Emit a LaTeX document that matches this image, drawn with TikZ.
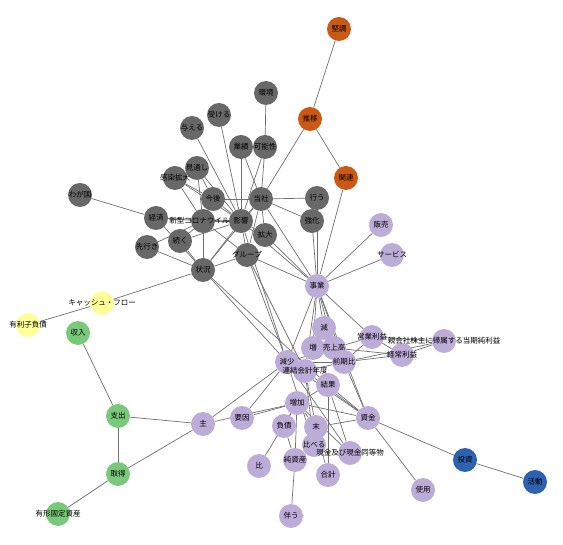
\documentclass[tikz,border=0pt]{standalone}
\usepackage{fontspec}
\setmainfont{Noto Sans CJK JP}
\usetikzlibrary{backgrounds}

\definecolor{orng}{RGB}{204,88,22}
\definecolor{grey}{RGB}{104,104,104}
\definecolor{lav}{RGB}{188,172,216}
\definecolor{yel}{RGB}{255,255,153}
\definecolor{grn}{RGB}{122,200,122}
\definecolor{blu}{RGB}{46,98,176}
\definecolor{edgecol}{RGB}{112,112,112}

\tikzset{
    word/.style={circle, minimum size=24pt, inner sep=0pt, draw=none},
    onode/.style={word, fill=orng},
    gnode/.style={word, fill=grey},
    pnode/.style={word, fill=lav},
    ynode/.style={word, fill=yel},
    cnode/.style={word, fill=grn},
    bnode/.style={word, fill=blu},
    every label/.style={inner sep=0pt, text=black, font=\fontsize{7.5}{8}\selectfont},
    link/.style={draw=edgecol, line width=0.7pt}
}

\begin{document}
\begin{tikzpicture}[x=1pt, y=-1pt]
    \useasboundingbox (0,0) rectangle (563,545);

    % ORANGE GROUP
    \node[onode, label=center:堅調] (kencho) at (339,29) {};
    \node[onode, label=center:推移] (suii) at (310,119) {};
    \node[onode, label=center:関連] (kanren) at (346,178) {};

    % GREY GROUP
    \node[gnode, label=center:環境] (kankyo) at (266,93) {};
    \node[gnode, label=center:受ける] (ukeru) at (219,115) {};
    \node[gnode, label=center:与える] (ataeru) at (192,128) {};
    \node[gnode, label=center:業績] (gyoseki) at (241,147) {};
    \node[gnode, label=center:可能性] (kanosei) at (265,147) {};
    \node[gnode, label=center:見通し] (mitoshi) at (197,168) {};
    \node[gnode, label=center:感染拡大] (kansen) at (175,178) {};
    \node[gnode, label=center:今後] (kongo) at (213,199) {};
    \node[gnode, label=center:当社] (tosha) at (261,199) {};
    \node[gnode, label=center:行う] (okonau) at (317,198) {};
    \node[gnode, label=center:わが国] (wagakuni) at (80,195) {};
    \node[gnode, label=center:経済] (keizai) at (156,218) {};
    \node[gnode, label=center:強化] (kyoka) at (312,221) {};
    \node[gnode, label=center:拡大] (kakudai) at (265,235) {};
    \node[gnode, label=center:続く] (tsuzuku) at (180,241) {};
    \node[gnode, label=center:先行き] (sakiyuki) at (147,247) {};
    \node[gnode, label=center:グループ] (group) at (247,255) {};
    \node[gnode, label=center:状況] (jokyo) at (203,270) {};
    \node[gnode, label=center:新型コロナウイルス] (corona) at (203,221) {};
    \node[gnode, label=center:影響] (eikyo) at (241,221) {};

    % PURPLE GROUP
    \node[pnode, label=center:販売] (hanbai) at (381,225) {};
    \node[pnode, label=center:サービス] (service) at (392,255) {};
    \node[pnode, label=center:事業] (jigyo) at (317,286) {};
    \node[pnode, label=center:減] (gen) at (324,328) {};
    \node[pnode, label=center:増] (zo) at (313,348) {};
    \node[pnode, label=center:売上高] (uriage) at (334,348) {};
    \node[pnode, label=center:営業利益] (eigyo) at (372,337) {};
    \node[pnode, label=center:経常利益] (keijo) at (402,355) {};
    \node[pnode, label=center:前期比] (zenki) at (344,362) {};
    \node[pnode, label=center:減少] (gensho) at (287,362) {};
    \node[pnode, label=center:連結会計年度] (renketsu) at (305,371) {};
    \node[pnode, label=center:結果] (kekka) at (328,385) {};
    \node[pnode, label=center:増加] (zoka) at (297,403) {};
    \node[pnode, label=center:要因] (yoin) at (242,418) {};
    \node[pnode, label=center:主] (omo) at (203,424) {};
    \node[pnode, label=center:負債] (fusai) at (284,426) {};
    \node[pnode, label=center:末] (matsu) at (316,427) {};
    \node[pnode, label=center:資金] (shikin) at (368,418) {};
    \node[pnode, label=center:比べる] (kuraberu) at (314,445) {};
    \node[pnode, label=center:比] (hi) at (259,466) {};
    \node[pnode, label=center:純資産] (junshisan) at (295,460) {};
    \node[pnode, label=center:合計] (gokei) at (328,475) {};
    \node[pnode, label=center:使用] (shiyo) at (423,490) {};
    \node[pnode, label=center:伴う] (tomonau) at (291,516) {};
    \node[pnode, label=center:現金及び現金同等物] (genkin) at (350,453) {};
    \node[pnode, label=center:親会社株主に帰属する当期純利益] (junrieki) at (444,341) {};

    % YELLOW, GREEN, BLUE
    \node[ynode, label=center:キャッシュ・フロー] (cf) at (102,303) {};
    \node[ynode, label=center:有利子負債] (yurishi) at (28,325) {};
    \node[cnode, label=center:収入] (shunyu) at (78,333) {};
    \node[cnode, label=center:支出] (shishutsu) at (118,416) {};
    \node[cnode, label=center:取得] (shutoku) at (118,474) {};
    \node[cnode, label=center:有形固定資産] (kotei) at (58,514) {};
    \node[bnode, label=center:投資] (toshi) at (465,460) {};
    \node[bnode, label=center:活動] (katsudo) at (535,482) {};

    % LINKS
    \begin{scope}[on background layer]
    \foreach \a/\b in {kencho/suii, suii/kanren, suii/tosha, kanren/jigyo,
        kankyo/kanosei, kanosei/tosha, kanosei/eikyo, ukeru/eikyo, ataeru/eikyo,
        gyoseki/eikyo, gyoseki/tosha, mitoshi/kongo, mitoshi/eikyo, mitoshi/corona,
        kansen/kongo, kansen/eikyo, kansen/corona, kongo/tosha, kongo/eikyo,
        wagakuni/keizai, keizai/corona, keizai/eikyo, keizai/jokyo,
        tsuzuku/corona, tsuzuku/jokyo, tsuzuku/eikyo, sakiyuki/jokyo, sakiyuki/corona,
        corona/jokyo, corona/eikyo, corona/group,
        eikyo/tosha, eikyo/kakudai, eikyo/group, eikyo/jokyo, eikyo/jigyo, eikyo/gensho,
        tosha/okonau, tosha/kyoka, tosha/jigyo, tosha/kakudai, tosha/group, tosha/jokyo,
        okonau/jigyo, kyoka/jigyo, kakudai/jigyo, group/jigyo, group/gensho,
        group/renketsu, group/jokyo, jokyo/gensho, jokyo/cf, jokyo/kekka, cf/yurishi,
        jigyo/hanbai, jigyo/service, jigyo/gen, jigyo/zo, jigyo/uriage, jigyo/eigyo,
        jigyo/gensho, jigyo/renketsu, jigyo/zenki, jigyo/shikin,
        gen/uriage, zo/uriage, zo/zenki, uriage/eigyo, uriage/keijo, zenki/keijo,
        zenki/eigyo, zenki/junrieki, eigyo/junrieki, eigyo/keijo, keijo/junrieki,
        gensho/uriage, gensho/zenki, renketsu/zenki, gensho/yoin, gensho/omo,
        gensho/shikin, gensho/genkin, gensho/kuraberu,
        zoka/omo, zoka/yoin, zoka/shikin, zoka/fusai, zoka/junshisan, zoka/matsu,
        zoka/genkin, kekka/shikin, kekka/zoka, kekka/genkin, kekka/gokei,
        renketsu/matsu, renketsu/kuraberu, renketsu/shikin, matsu/gokei, matsu/shikin,
        zenki/shikin, junshisan/tomonau, hi/zoka, fusai/junshisan,
        shikin/shiyo, shikin/toshi, toshi/katsudo,
        omo/shishutsu, omo/shutoku, shishutsu/shunyu, shishutsu/shutoku, shutoku/kotei}
        \draw[link] (\a) -- (\b);
    \end{scope}
\end{tikzpicture}
\end{document}
